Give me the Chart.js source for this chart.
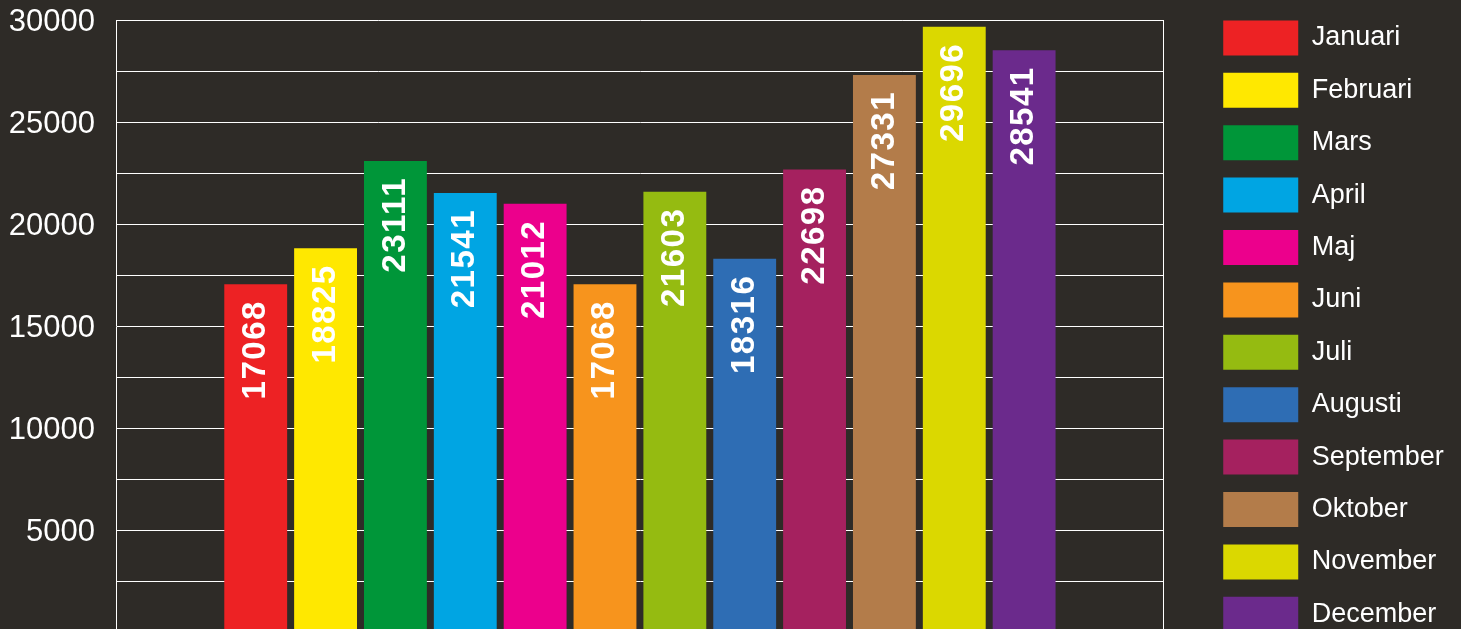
<!DOCTYPE html>
<html>
<head>
<meta charset="utf-8">
<script src="https://cdn.jsdelivr.net/npm/chart.js@4"></script>
<style>
  body { margin: 0; background: #2e2b27; overflow: hidden; }
  #wrap { width: 1461px; height: 720px; position: relative; }
</style>
</head>
<body>
<div id="wrap"><canvas id="chart"></canvas></div>
<script>
// months + values
const months = ["Januari", "Februari", "Mars", "April", "Maj", "Juni",
  "Juli", "Augusti", "September", "Oktober", "November", "December"];
const values = [17068, 18825, 23111, 21541, 21012, 17068,
  21603, 18316, 22698, 27331, 29696, 28541];
const colors = ["#ed2224", "#ffe800", "#009639", "#00a5e3", "#ec008c", "#f7941d",
  "#95bb11", "#2e6db4", "#a5215f", "#b37c4a", "#dbd800", "#6b2a8c"];
const yTicks = [5000, 10000, 15000, 20000, 25000, 30000];

const FONT = "'Liberation Sans', Arial, sans-serif";

// rotated value labels inside each bar
const barLabels = {
  id: "barLabels",
  afterDatasetsDraw(chart) {
    const ctx = chart.ctx;
    chart.data.datasets.forEach((ds, i) => {
      const bar = chart.getDatasetMeta(i).data[0];
      if (!bar) return;
      ctx.save();
      ctx.translate(bar.x, bar.y + 16);
      ctx.rotate(-Math.PI / 2);
      ctx.font = "bold 33px " + FONT;
      ctx.letterSpacing = "1.5px";
      ctx.fillStyle = "#ffffff";
      ctx.textAlign = "right";
      ctx.textBaseline = "middle";
      ctx.fillText(String(ds.data[0]), 0, 0);
      ctx.restore();
    });
  }
};

new Chart(document.getElementById("chart"), {
  type: "bar",
  data: {
    labels: [""],
    datasets: months.map((m, i) => ({
      label: m,
      data: [values[i]],
      backgroundColor: colors[i],
      borderWidth: 0
    }))
  },
  options: {
    responsive: true,
    maintainAspectRatio: false,
    animation: false,
    layout: { padding: { top: 3, left: 0, right: 14, bottom: 0 } },
    scales: {
      x: {
        display: true,
        grid: { display: false },
        border: { display: false },
        ticks: { display: false },
        afterFit: (s) => { s.height = 88; }
      },
      y: {
        min: 0,
        max: 30000,
        afterFit: (s) => { s.width = 116; },
        afterBuildTicks: (s) => {
          s.ticks = [];
          for (let v = 0; v <= 30000; v += 2500) s.ticks.push({ value: v });
        },
        ticks: {
          autoSkip: false,
          padding: 0,
          labelOffset: 2,
          color: "#ffffff",
          font: { family: FONT, size: 31, lineHeight: 1.33 },
          callback: (v) => yTicks.includes(v) ? String(v) : ""
        },
        grid: {
          color: "#ffffff",
          lineWidth: 1,
          drawTicks: true,
          tickLength: 21,
          tickColor: "rgba(0,0,0,0)"
        },
        border: { display: true, color: "#ffffff", width: 1 }
      },
      y2: {
        position: "right",
        min: 0,
        max: 30000,
        grid: { display: false },
        ticks: { display: false },
        border: { display: true, color: "#ffffff", width: 1 },
        afterFit: (s) => { s.width = 42; }
      }
    },
    plugins: {
      tooltip: { enabled: false },
      legend: {
        position: "right",
        align: "start",
        labels: {
          boxWidth: 75,
          boxHeight: 35,
          padding: 17.4,
          color: "#ffffff",
          font: { family: FONT, size: 27 }
        }
      }
    }
  },
  plugins: [barLabels]
});
</script>
</body>
</html>
